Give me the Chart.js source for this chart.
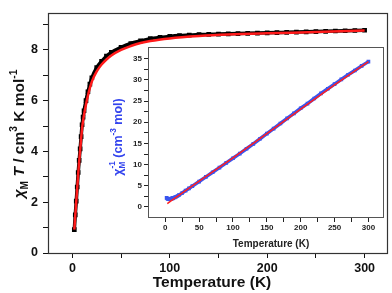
<!DOCTYPE html>
<html>
<head>
<meta charset="utf-8">
<script src="https://cdn.jsdelivr.net/npm/chart.js@4.4.1/dist/chart.umd.min.js"></script>
<style>
  html, body { margin: 0; padding: 0; background: #fff; }
  #wrap { position: relative; width: 392px; height: 293px; }
  #mainChart { position: absolute; left: 0; top: 0; }
  #insetChart { position: absolute; left: 100px; top: 40px; }
</style>
</head>
<body>
<div id="wrap">
  <canvas id="mainChart" width="392" height="293"></canvas>
  <canvas id="insetChart" width="290" height="215"></canvas>
</div>
<script>
/* ---- main panel: chiM*T vs T (measured squares + red fit) ---- */
var tempK = [2, 3, 4, 5, 6, 7, 8, 9, 10, 11, 12, 14, 16, 18, 20, 25, 30, 35, 40, 50,
    60, 70, 80, 90, 100, 110, 120, 130, 140, 150, 160, 170, 180, 190, 200, 210, 220,
    230, 240, 250, 260, 270, 280, 290, 300];
var chiT = [0.92, 1.5, 2.04, 2.6, 3.17, 3.65, 4.1, 4.58, 5.05, 5.35, 5.6, 6.0, 6.35,
    6.65, 6.9, 7.3, 7.55, 7.75, 7.9, 8.1, 8.25, 8.35, 8.44, 8.49, 8.53, 8.56, 8.58, 8.6,
    8.61, 8.62, 8.63, 8.64, 8.65, 8.66, 8.67, 8.68, 8.69, 8.7, 8.71, 8.72, 8.73, 8.74,
    8.75, 8.76, 8.77];

var fitT = [2, 3, 4, 5, 6, 7, 8, 9, 10, 11, 12, 14, 16, 18, 20, 25, 30, 35, 40, 50, 60,
    70, 80, 100, 130, 160, 200, 250, 300];
var fitChiT = [0.92, 1.48, 2.02, 2.57, 3.12, 3.6, 4.05, 4.5, 4.92, 5.2, 5.45, 5.85, 6.2,
    6.5, 6.75, 7.15, 7.42, 7.62, 7.78, 8.0, 8.15, 8.27, 8.35, 8.45, 8.54, 8.6, 8.65,
    8.7, 8.76];

var mainXTicks = [0, 50, 100, 150, 200, 250, 300];
var mainXLabels = [0, 100, 200, 300];
var mainYTicks = [0, 1, 2, 3, 4, 5, 6, 7, 8, 9];
var mainYLabels = [0, 2, 4, 6, 8];

/* ---- inset: 1/chiM vs T (blue data + red fit) ---- */
var invChi = [2.15, 2.0, 1.92, 1.88, 1.85, 1.87, 1.92, 1.97, 2.02, 2.08, 2.12, 2.25,
    2.42, 2.6, 2.78, 3.3, 3.85, 4.38, 4.93, 6.0, 7.1, 8.2, 9.3, 10.4, 11.5, 12.6, 13.75,
    14.9, 16.1, 17.3, 18.5, 19.7, 20.9, 22.1, 23.3, 24.4, 25.6, 26.8, 27.9, 29.0, 30.1,
    31.2, 32.2, 33.3, 34.3];

var invFitT = [3, 10, 20, 50, 100, 150, 200, 250, 300];
var invFitChi = [0.8, 1.6, 2.75, 6.1, 11.6, 17.3, 23.1, 28.8, 34.3];

var insetXTicks = [0, 25, 50, 75, 100, 125, 150, 175, 200, 225, 250, 275, 300];
var insetXLabels = [0, 50, 100, 150, 200, 250, 300];
var insetYTicks = [0, 2.5, 5, 7.5, 10, 12.5, 15, 17.5, 20, 22.5, 25, 27.5, 30, 32.5, 35];
var insetYLabels = [0, 5, 10, 15, 20, 25, 30, 35];

(function () {
    'use strict';

    var FONT = '"Liberation Sans", Arial, sans-serif';

    function toXY(xs, ys) {
        var out = [];
        for (var i = 0; i < xs.length; i++) out.push({ x: xs[i], y: ys[i] });
        return out;
    }

    // draws text made of parts (italic / sub / sup), centred on (cx, cy)
    function drawRich(ctx, parts, cx, cy, size, color, rotate) {
        var small = size * 0.66;
        function font(p) {
            var s = (p.sub || p.sup) ? small : size;
            return (p.it ? 'italic ' : '') + 'bold ' + s + 'px ' + FONT;
        }
        var widths = [];
        var total = 0;
        for (var i = 0; i < parts.length; i++) {
            ctx.font = font(parts[i]);
            var w = ctx.measureText(parts[i].t).width;
            if (parts[i].stack) {
                ctx.font = 'bold ' + small + 'px ' + FONT;
                w = Math.max(w, ctx.measureText(parts[i].stack).width);
            }
            widths.push(w);
            total += w;
        }
        ctx.save();
        ctx.translate(cx, cy);
        if (rotate) ctx.rotate(-Math.PI / 2);
        ctx.fillStyle = color;
        ctx.textBaseline = 'alphabetic';
        ctx.textAlign = 'left';
        var x = -total / 2;
        var base = size * 0.36;
        for (var j = 0; j < parts.length; j++) {
            var p = parts[j];
            ctx.font = font(p);
            var dy = p.sub ? size * 0.28 : (p.sup ? -size * 0.42 : 0);
            ctx.fillText(p.t, x, base + dy);
            if (p.stack) {
                ctx.font = 'bold ' + small + 'px ' + FONT;
                ctx.fillText(p.stack, x, base - size * 0.5);
            }
            x += widths[j];
        }
        ctx.restore();
    }

    function framePlugin(color, width, fillArea) {
        return {
            id: 'frame',
            beforeDraw: function (chart) {
                var ctx = chart.ctx;
                var a = chart.chartArea;
                ctx.save();
                ctx.fillStyle = '#fff';
                if (fillArea) ctx.fillRect(a.left, a.top, a.right - a.left, a.bottom - a.top);
                else ctx.fillRect(0, 0, chart.width, chart.height);
                ctx.restore();
            },
            afterDraw: function (chart) {
                var ctx = chart.ctx;
                var a = chart.chartArea;
                ctx.save();
                ctx.strokeStyle = color;
                ctx.lineWidth = width;
                ctx.strokeRect(Math.round(a.left) + 0.5, Math.round(a.top) + 0.5,
                    Math.round(a.right - a.left) - 1, Math.round(a.bottom - a.top) - 1);
                ctx.restore();
            }
        };
    }

    function axis(min, max, ticks, labels, fontSize, color, tickLen, pad, fit) {
        return {
            type: 'linear',
            min: min,
            max: max,
            afterFit: fit,
            afterBuildTicks: function (s) {
                s.ticks = ticks.map(function (v) { return { value: v }; });
            },
            grid: { drawOnChartArea: false, drawTicks: true, tickLength: tickLen, color: color, lineWidth: 1 },
            border: { display: false },
            ticks: {
                autoSkip: false,
                maxRotation: 0,
                padding: pad,
                color: color,
                font: { family: FONT, size: fontSize, weight: 'bold' },
                callback: function (v) { return labels.indexOf(v) >= 0 ? String(v) : ''; }
            }
        };
    }

    // ---- main chart
    new Chart(document.getElementById('mainChart').getContext('2d'), {
        type: 'scatter',
        data: {
            datasets: [{
                label: 'fit',
                data: toXY(fitT, fitChiT),
                showLine: true,
                borderColor: '#ff1a1a',
                borderWidth: 2.5,
                pointRadius: 0,
                cubicInterpolationMode: 'monotone',
                order: 0
            }, {
                label: 'data',
                data: toXY(tempK, chiT),
                showLine: true,
                borderColor: '#000',
                borderWidth: 3.5,
                backgroundColor: '#000',
                pointBorderWidth: 0,
                pointStyle: 'rect',
                pointRadius: 3.3,
                cubicInterpolationMode: 'monotone',
                order: 1
            }]
        },
        options: {
            responsive: false,
            animation: false,
            events: [],
            layout: { padding: { top: 2, right: 2, left: 0, bottom: 0 } },
            plugins: { legend: { display: false }, tooltip: { enabled: false } },
            scales: {
                x: axis(-25, 324, mainXTicks, mainXLabels, 12.5, '#111', 5, 3,
                    function (s) { s.height = 40; }),
                y: axis(0, 9.47, mainYTicks, mainYLabels, 12.5, '#111', 5, 5,
                    function (s) { s.width = 48; })
            }
        },
        plugins: [framePlugin('#333', 1.2, false), {
            id: 'titles',
            afterDraw: function (chart) {
                var ctx = chart.ctx;
                drawRich(ctx, [{ t: 'Temperature (K)' }], 212, 281.5, 15.5, '#111', false);
                drawRich(ctx, [
                    { t: '\u03c7', it: true }, { t: 'M', sub: true }, { t: ' T', it: true },
                    { t: ' / cm' }, { t: '3', sup: true }, { t: ' K mol' }, { t: '-1', sup: true }
                ], 18, 134, 15.5, '#111', true);
            }
        }]
    });

    // ---- inset chart
    new Chart(document.getElementById('insetChart').getContext('2d'), {
        type: 'scatter',
        data: {
            datasets: [{
                label: 'fit',
                data: toXY(invFitT, invFitChi),
                showLine: true,
                borderColor: '#ff2020',
                borderWidth: 1.5,
                pointRadius: 0,
                order: 0
            }, {
                label: 'data',
                data: toXY(tempK, invChi),
                showLine: true,
                borderColor: '#3a55ee',
                borderWidth: 3.5,
                backgroundColor: '#3a55ee',
                pointBorderWidth: 0,
                pointStyle: 'rect',
                pointRadius: 2.6,
                order: 1
            }]
        },
        options: {
            responsive: false,
            animation: false,
            events: [],
            layout: { padding: { top: 3, right: 6, left: 0, bottom: 0 } },
            plugins: { legend: { display: false }, tooltip: { enabled: false } },
            scales: {
                x: axis(-25.5, 323, insetXTicks, insetXLabels, 8, '#222', 4, 1,
                    function (s) { s.height = 37; }),
                y: axis(-2.6, 37.8, insetYTicks, insetYLabels, 8, '#222', 4, 2,
                    function (s) { s.width = 48; })
            }
        },
        plugins: [framePlugin('#555', 1, true), {
            id: 'titles',
            afterDraw: function (chart) {
                var ctx = chart.ctx;
                drawRich(ctx, [{ t: 'Temperature (K)' }], 171, 203, 10, '#222', false);
                drawRich(ctx, [
                    { t: '\u03c7' }, { t: 'M', sub: true, stack: '-1' },
                    { t: ' (cm' }, { t: '-3', sup: true }, { t: ' mol)' }
                ], 17, 97, 12.5, '#3344ee', true);
            }
        }]
    });
})();
</script>
</body>
</html>
